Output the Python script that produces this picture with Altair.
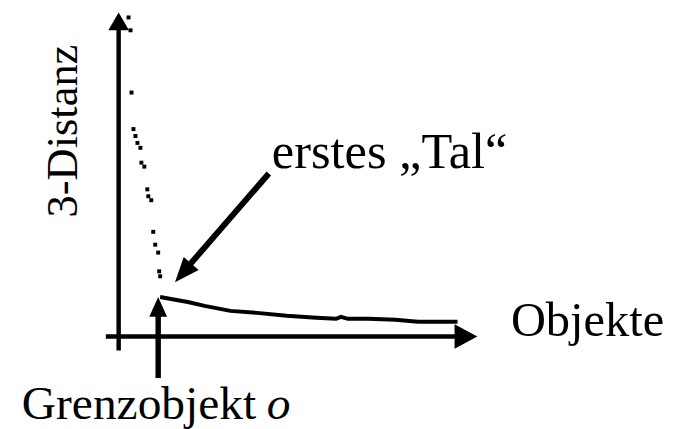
import altair as alt
import pandas as pd

# ---- data (object rank, 3-distance), arbitrary units ----
dot_obj = [10, 12, 13, 15, 17, 19, 22, 23, 26, 29, 30, 33, 35, 37, 40, 41, 42]
dot_dist = [323, 310, 247, 210, 203, 196, 191, 176, 172, 149, 142, 138, 106, 93, 85, 66, 61]

curve_obj = [42, 53, 70, 87, 113, 140, 170, 200, 220, 225, 232, 253, 280, 303, 343]
curve_dist = [40, 38, 35, 31, 26, 24, 21, 19, 18, 20, 18, 18, 17, 15, 15]

# arrows: shaft start/end, tip
seg_x = [-13, 0, 40, 152]
seg_y = [0, -14, -42, 165]
seg_x2 = [343, 0, 40, 73]
seg_y2 = [0, 312, 22, 74]
seg_w = [4.5, 4.5, 5.5, 6]

tip_x = [363, 0, 40, 57]
tip_y = [0, 328, 40, 55]
tip_angle = [90, 0, 0, 221]
tip_size = [2116, 1296, 1600, 2500]
tip_shape = [
    "M0,0 L-0.54,1 L0.54,1 Z",
    "M0,0 L-0.58,1 L0.58,1 Z",
    "M0,0 L-0.45,1 L0.45,1 Z",
    "M0,0 L-0.4,1 L0.4,1 Z",
]

label_text = ["erstes „Tal“", "Objekte", "Grenzobjekt"]
label_x = [155, 397, -98]
label_y = [171, 1, -83]
label_size = [51, 49, 48]
italic_text = ["o"]
italic_x = [150]
italic_y = [-83]
ylabel_text = ["3-Distanz"]
ylabel_x = [-42]
ylabel_y = [208]

FONT = "Liberation Serif"

xs = alt.Scale(domain=[-112, 555], nice=False, zero=False)
ys = alt.Scale(domain=[-91, 330], nice=False, zero=False)


def X(f="x"):
    return alt.X(f"{f}:Q", scale=xs, axis=None)


def Y(f="y"):
    return alt.Y(f"{f}:Q", scale=ys, axis=None)


dots = alt.Chart(pd.DataFrame({"x": dot_obj, "y": dot_dist})).mark_square(
    size=16, color="black", opacity=1
).encode(x=X(), y=Y())

curve = alt.Chart(pd.DataFrame({"x": curve_obj, "y": curve_dist})).mark_line(
    color="black", strokeWidth=4
).encode(x=X(), y=Y())

shafts = alt.Chart(
    pd.DataFrame({"x": seg_x, "y": seg_y, "x2": seg_x2, "y2": seg_y2, "w": seg_w})
).mark_rule(color="black", strokeCap="butt").encode(
    x=X(), y=Y(), x2="x2:Q", y2="y2:Q",
    strokeWidth=alt.StrokeWidth("w:Q", scale=None),
)

heads = alt.Chart(
    pd.DataFrame({"x": tip_x, "y": tip_y, "a": tip_angle, "s": tip_size, "shp": tip_shape})
).mark_point(filled=True, color="black", opacity=1, strokeWidth=0).encode(
    x=X(), y=Y(),
    angle=alt.Angle("a:Q", scale=None),
    size=alt.Size("s:Q", scale=None),
    shape=alt.Shape("shp:N", scale=None),
)

labels = alt.Chart(
    pd.DataFrame({"x": label_x, "y": label_y, "t": label_text, "fs": label_size})
).mark_text(
    font=FONT, align="left", baseline="alphabetic", color="black"
).encode(x=X(), y=Y(), text="t:N", size=alt.Size("fs:Q", scale=None))

italic = alt.Chart(pd.DataFrame({"x": italic_x, "y": italic_y, "t": italic_text})).mark_text(
    font=FONT, fontSize=48, fontStyle="italic", align="left", baseline="alphabetic", color="black"
).encode(x=X(), y=Y(), text="t:N")

ylabel = alt.Chart(pd.DataFrame({"x": ylabel_x, "y": ylabel_y, "t": ylabel_text})).mark_text(
    font=FONT, fontSize=45, align="center", baseline="alphabetic", angle=270, color="black"
).encode(x=X(), y=Y(), text="t:N")

chart = alt.layer(shafts, heads, curve, dots, labels, italic, ylabel).properties(
    width=667, height=421, padding=0,
    autosize=alt.AutoSizeParams(type="none"),
    background="white",
).configure_view(stroke=None)

chart.save("out.html", embed_options={"renderer": "svg", "actions": False})
